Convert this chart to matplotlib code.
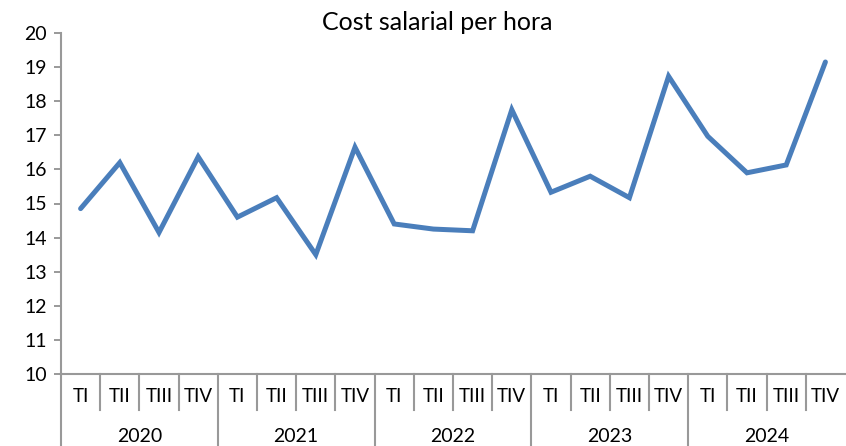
import matplotlib
matplotlib.use("Agg")
import matplotlib.pyplot as plt
import matplotlib.transforms as mtransforms

years = ["2020", "2021", "2022", "2023", "2024"]
quarters = ["TI", "TII", "TIII", "TIV"]
values = [14.85, 16.2, 14.15, 16.37,
          14.6, 15.17, 13.5, 16.65,
          14.4, 14.25, 14.2, 17.75,
          15.33, 15.8, 15.17, 18.73,
          16.97, 15.9, 16.13, 19.15]

plt.rcParams['font.family'] = ['Lato', 'DejaVu Sans']

W, H = 846, 446
fig = plt.figure(figsize=(W/100, H/100), dpi=100)
ax = fig.add_axes([61/W, (H-374)/H, (845-61)/W, (374-33)/H])

n = len(values)
x = list(range(n))
ax.plot(x, values, color="#4A7EBB", linewidth=3.6, solid_joinstyle="miter", solid_capstyle="round")
ax.set_xlim(-0.5, n-0.5)
ax.set_ylim(10, 20)
ax.set_yticks(range(10, 21))
ax.tick_params(axis='y', direction='out', length=5, color='#888888', labelsize=14, pad=5, width=1.2)
ax.set_xticks([])
for s in ['top', 'right']:
    ax.spines[s].set_visible(False)
for s in ['left', 'bottom']:
    ax.spines[s].set_color('#999999')
    ax.spines[s].set_linewidth(1.5)

trans = mtransforms.blended_transform_factory(ax.transData, fig.transFigure)
y_axis = (H-374)/H
y_qsep = (H-410)/H
y_ysep = 0.0
y_q = (H-397)/H
y_y = (H-436)/H
for i in range(n + 1):
    xs = i - 0.5
    low = y_ysep if i % 4 == 0 else y_qsep
    if i == n:
        continue
    fig.add_artist(plt.Line2D([xs, xs], [y_axis, low], transform=trans, color='#999999', linewidth=1.5))
for i in range(n):
    fig.text(i, y_q, quarters[i % 4], transform=trans, ha='center', va='center', fontsize=13.5)
for j, yr in enumerate(years):
    fig.text(j*4 + 1.5, y_y, yr, transform=trans, ha='center', va='center', fontsize=14)

fig.text(437/W, (H-22)/H, "Cost salarial per hora", ha='center', va='center', fontsize=18)

fig.savefig("out.png", dpi=100)
